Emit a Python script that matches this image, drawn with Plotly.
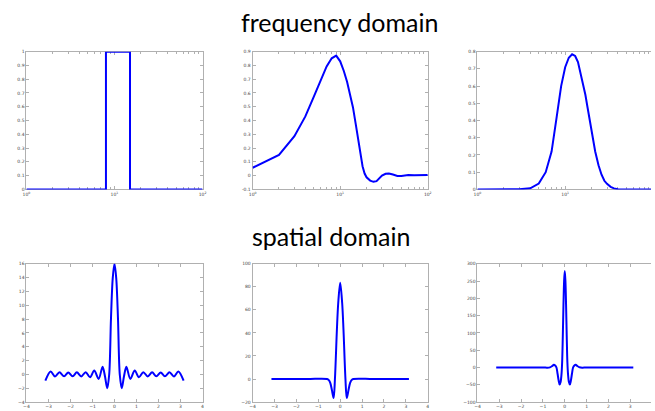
import plotly.graph_objects as go

W, H = 655, 411

# ---------------- data ----------------
# frequency domain (log x)
f1_x = [1, 8, 8, 15, 15, 100]
f1_y = [0, 0, 1, 1, 0, 0]

f2_x = [1, 2, 3, 4, 5, 6, 7, 8, 9, 10, 11, 12, 13, 14, 15, 16, 17, 18, 19, 20,
        22, 24, 26, 28, 30, 33, 36, 40, 45, 50, 55, 60, 70, 80, 100]
f2_y = [0.057, 0.15, 0.286, 0.43, 0.574, 0.693, 0.793, 0.852, 0.871, 0.83, 0.76,
        0.68, 0.59, 0.495, 0.38, 0.26, 0.16, 0.068, 0.015, -0.012,
        -0.036, -0.045, -0.04, -0.02, 0.0, 0.013, 0.016, 0.008, -0.002, -0.002,
        0.003, 0.005, 0.003, 0.004, 0.005]

f3_x = [1, 2, 3, 4, 5, 6, 7, 8, 9, 10, 11, 12, 13, 14, 15, 16, 17, 18, 19, 20,
        21, 22, 24, 26, 28, 30, 33, 36, 40, 50, 60, 100]
f3_y = [0, 0, 0.0005, 0.006, 0.034, 0.1, 0.22, 0.42, 0.6, 0.71, 0.765, 0.785,
        0.775, 0.74, 0.675, 0.62, 0.55, 0.476, 0.41, 0.33, 0.27, 0.22, 0.14,
        0.085, 0.05, 0.032, 0.015, 0.006, 0.001, 0, 0, 0]

# spatial domain
s1_x = [-3.14, -2.9, -2.7, -2.5, -2.29, -2.1, -1.9, -1.71, -1.51, -1.31, -1.11,
        -0.92, -0.72, -0.54, -0.43, -0.33, -0.24, -0.16, -0.08, 0.0,
        0.08, 0.16, 0.24, 0.33, 0.43, 0.54, 0.72, 0.92, 1.11, 1.31, 1.51,
        1.71, 1.9, 2.1, 2.29, 2.5, 2.7, 2.9, 3.14]
s1_y = [-0.9, 0.43, -0.3, 0.3, -0.27, 0.28, -0.28, 0.3, -0.3, 0.33, -0.4,
        0.55, -0.65, 1.1, -0.3, -2.0, 0.0, 8.0, 13.9, 16.0,
        13.9, 8.0, 0.0, -2.0, -0.3, 1.1, -0.65, 0.55, -0.4, 0.33, -0.3,
        0.3, -0.28, 0.28, -0.27, 0.3, -0.3, 0.43, -0.9]

s2_x = [-3.14, -1.5, -0.6, -0.52, -0.45, -0.38, -0.3, -0.24, -0.15, -0.09, 0.0,
        0.09, 0.15, 0.24, 0.3, 0.38, 0.45, 0.52, 0.6, 1.5, 3.14]
s2_y = [0, 0, 0, -1.0, -3.5, -9.5, -16.5, 0, 43, 66, 83.5,
        66, 43, 0, -16.5, -9.5, -3.5, -1.0, 0, 0, 0]

s3_x = [-3.14, -1.0, -0.8, -0.68, -0.58, -0.5, -0.44, -0.38, -0.33, -0.28,
        -0.235, -0.19, -0.15, -0.12, -0.09, -0.06, -0.03, 0.0,
        0.03, 0.06, 0.09, 0.12, 0.15, 0.19, 0.235, 0.28, 0.33, 0.38, 0.44,
        0.5, 0.58, 0.68, 0.8, 1.0, 3.14]
s3_y = [0, 0, -0.5, 0.5, 4, 7.7, 6, 0, -18, -38,
        -49.5, -42, -20, 15, 90, 180, 250, 279,
        250, 180, 90, 15, -20, -42, -49.5, -38, -18, 0, 6,
        7.7, 4, 0.5, -0.5, 0, 0]

# ---------------- layout geometry (pixels) ----------------
cols = [(22.7, 201.0), (251.7, 429.0), (479.3, 655.0)]
rows = [(50.3, 189.7), (265.0, 405.0)]

def xd(c):
    return [cols[c][0] / W, cols[c][1] / W]

def yd(r):
    return [1 - rows[r][1] / H, 1 - rows[r][0] / H]

BLUE = "#0000ff"
AXC = "#b0b0b0"
TFONT = dict(family="DejaVu Sans", size=4.5, color="#444444")

fig = go.Figure()

series = [
    (f1_x, f1_y, "linear"), (f2_x, f2_y, "linear"), (f3_x, f3_y, "linear"),
    (s1_x, s1_y, "spline"), (s2_x, s2_y, "spline"), (s3_x, s3_y, "spline"),
]
for i, (x, y, shape) in enumerate(series):
    sfx = "" if i == 0 else str(i + 1)
    line = dict(color=BLUE, width=2, shape=shape)
    if shape == "spline":
        line["smoothing"] = 0.9
    fig.add_trace(go.Scatter(x=x, y=y, mode="lines", line=line,
                             xaxis="x" + sfx, yaxis="y" + sfx, showlegend=False))

def base_axis():
    return dict(showline=True, linecolor=AXC, linewidth=1, ticks="inside",
                ticklen=3, tickcolor=AXC, showgrid=False, zeroline=False,
                tickfont=TFONT, layer="below traces")

minor_vals = [2, 3, 4, 5, 6, 7, 8, 9, 20, 30, 40, 50, 60, 70, 80, 90]
log_ticktext = ["10<sup>0</sup>", "10<sup>1</sup>", "10<sup>2</sup>"]

y_cfg = [
    dict(range=[0, 1], tickvals=[0, 0.1, 0.2, 0.3, 0.4, 0.5, 0.6, 0.7, 0.8, 0.9, 1],
         ticktext=["0", "0.1", "0.2", "0.3", "0.4", "0.5", "0.6", "0.7", "0.8", "0.9", "1"]),
    dict(range=[-0.1, 0.9], tickvals=[-0.1, 0, 0.1, 0.2, 0.3, 0.4, 0.5, 0.6, 0.7, 0.8, 0.9],
         ticktext=["-0.1", "0", "0.1", "0.2", "0.3", "0.4", "0.5", "0.6", "0.7", "0.8", "0.9"]),
    dict(range=[0, 0.8], tickvals=[0, 0.1, 0.2, 0.3, 0.4, 0.5, 0.6, 0.7, 0.8],
         ticktext=["0", "0.1", "0.2", "0.3", "0.4", "0.5", "0.6", "0.7", "0.8"]),
    dict(range=[-4, 16], tickvals=list(range(-4, 17, 2))),
    dict(range=[-20, 100], tickvals=list(range(-20, 101, 20))),
    dict(range=[-100, 300], tickvals=list(range(-100, 301, 50))),
]

layout = dict(width=W, height=H, margin=dict(l=0, r=0, t=0, b=0),
              paper_bgcolor="white", plot_bgcolor="white", showlegend=False)

for i in range(6):
    r, c = divmod(i, 3)
    sfx = "" if i == 0 else str(i + 1)
    xa = base_axis()
    ya = base_axis()
    xa.update(domain=xd(c), anchor="y" + sfx, mirror="ticks")
    ya.update(domain=yd(r), anchor="x" + sfx, mirror=("ticks" if c < 2 else False))
    ya.update(y_cfg[i])
    if r == 0:
        xa.update(type="log", tickvals=[1, 10, 100], ticktext=log_ticktext,
                  minor=dict(tickvals=minor_vals, ticks="inside", ticklen=2, tickcolor=AXC))
        if c < 2:
            xa.update(range=[0, 2])
        else:
            xa.update(range=[0, (cols[2][1] - cols[2][0]) / 88.8])
    else:
        if c < 2:
            xa.update(range=[-4, 4], tickvals=list(range(-4, 5)))
        else:
            xa.update(range=[-4, -4 + (cols[2][1] - cols[2][0]) / 22.1], tickvals=list(range(-4, 4)))
    layout["xaxis" + sfx] = xa
    layout["yaxis" + sfx] = ya

layout["annotations"] = [
    dict(text="frequency domain", x=340 / W, y=1 - 20 / H, xref="paper", yref="paper",
         xanchor="center", yanchor="middle", showarrow=False,
         font=dict(family="Lato", size=25, color="black")),
    dict(text="spatial domain", x=331 / W, y=1 - 237 / H, xref="paper", yref="paper",
         xanchor="center", yanchor="middle", showarrow=False,
         font=dict(family="Lato", size=25, color="black")),
]

fig.update_layout(layout)
fig.write_html("out.html")
